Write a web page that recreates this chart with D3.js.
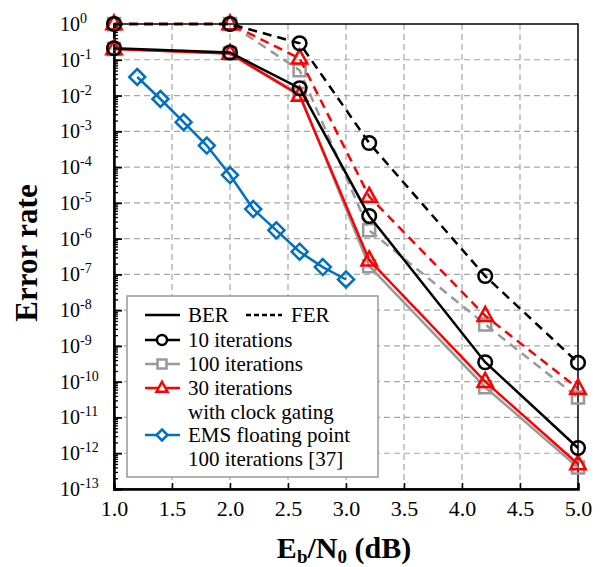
<!DOCTYPE html>
<html><head><meta charset="utf-8">
<script src="https://cdn.jsdelivr.net/npm/d3@7"></script>
<style>
html,body{margin:0;padding:0;background:#fff;}
</style></head>
<body><svg id="c" width="607" height="567"></svg>
<script>
// ---- data ----
const ebn0 = [1.0, 2.0, 2.6, 3.2, 4.2, 5.0];
const it10Ber  = [0.21, 0.16, 0.016, 4.3e-6, 3.5e-10, 1.4e-12];
const it10Fer  = [1, 1, 0.29, 4.7e-4, 9e-8, 3.4e-10];
const it100Ber = [0.2, 0.15, 0.011, 1.7e-7, 7e-11, 4e-13];
const it100Fer = [1, 1, 0.051, 1.7e-6, 4e-9, 3.6e-11];
const it30Ber  = [0.2, 0.15, 0.01, 2.5e-7, 1e-10, 5e-13];
const it30Fer  = [1, 1, 0.11, 1.5e-5, 7e-9, 6.5e-11];
const emsX = [1.2, 1.4, 1.6, 1.8, 2.0, 2.2, 2.4, 2.6, 2.8, 3.0];
const emsBer = [0.033, 0.008, 1.8e-3, 4e-4, 6e-5, 6.7e-6, 1.7e-6, 4.3e-7, 1.6e-7, 7.2e-8];
const xTicks = [1.0, 1.5, 2.0, 2.5, 3.0, 3.5, 4.0, 4.5, 5.0];
const yExps = [0,-1,-2,-3,-4,-5,-6,-7,-8,-9,-10,-11,-12,-13];
const legendLabels = [["10 iterations"],["100 iterations"],["30 iterations","with clock gating"],["EMS floating point","100 iterations [37]"]];

const BLACK="#000", GRAY="#999", RED="#ff0000", BLUE="#0070c0";
const FONT = "Liberation Serif";

const svg = d3.select("#c");
const x = d3.scaleLinear().domain([1,5]).range([114,578]);
const y = d3.scaleLog().domain([1,1e-13]).range([24,489]);

// grid
const g = svg.append("g");
g.selectAll(".gx").data(xTicks.slice(1,-1)).join("line")
  .attr("x1",d=>x(d)).attr("x2",d=>x(d)).attr("y1",y(1)).attr("y2",y(1e-13))
  .attr("stroke","#a6a6a6").attr("stroke-width",1.2).attr("stroke-dasharray","6,4");
g.selectAll(".gy").data(yExps.slice(1,-1)).join("line")
  .attr("x1",x(1)).attr("x2",x(5)).attr("y1",d=>y(Math.pow(10,d))).attr("y2",d=>y(Math.pow(10,d)))
  .attr("stroke","#a6a6a6").attr("stroke-width",1.2).attr("stroke-dasharray","6,4");

// frame
svg.append("rect").attr("x",x(1)).attr("y",y(1)).attr("width",x(5)-x(1)).attr("height",y(1e-13)-y(1))
  .attr("fill","none").attr("stroke","#000").attr("stroke-width",1.5);

// axes
const xa = svg.append("g").attr("transform",`translate(0,${y(1e-13)})`)
  .call(d3.axisBottom(x).tickValues(xTicks).tickSize(-6).tickPadding(11).tickFormat(d3.format(".1f")));
xa.select(".domain").attr("stroke-width",2.5);
xa.selectAll(".tick line").attr("stroke-width",1.5);
xa.selectAll("text").attr("font-size",22).attr("fill","#000");

const minors=[];
for(let e=-13;e<0;e++) for(let m=2;m<10;m++) minors.push(m*Math.pow(10,e));
const ym = svg.append("g").attr("transform",`translate(${x(1)},0)`)
  .call(d3.axisLeft(y).tickValues(minors).tickSize(-4).tickFormat(""));
ym.select(".domain").remove();
ym.selectAll(".tick line").attr("stroke-width",1.3);
const ya = svg.append("g").attr("transform",`translate(${x(1)},0)`)
  .call(d3.axisLeft(y).tickValues(yExps.map(e=>Math.pow(10,e))).tickSize(-8).tickFormat(""));
ya.select(".domain").attr("stroke-width",2.5);
ya.selectAll(".tick line").attr("stroke-width",1.8);

// y tick labels
yExps.forEach(e=>{
  const t = svg.append("text").attr("x",60).attr("y",y(Math.pow(10,e))+7).attr("font-size",20).attr("fill","#000");
  t.append("tspan").text("10");
  t.append("tspan").attr("dy",-8).attr("font-size",14).text(e===0?"0":"-"+Math.abs(e));
});

// axis titles
svg.append("text").attr("transform","translate(37,253) rotate(-90)").attr("text-anchor","middle")
  .attr("font-size",31).attr("font-weight","bold").text("Error rate");
const xt = svg.append("text").attr("x",344).attr("y",558).attr("text-anchor","middle")
  .attr("font-size",30).attr("font-weight","bold");
xt.append("tspan").text("E");
xt.append("tspan").attr("font-size",19).attr("dy",5).text("b");
xt.append("tspan").attr("dy",-5).text("/N");
xt.append("tspan").attr("font-size",19).attr("dy",5).text("0");
xt.append("tspan").attr("dy",-5).text(" (dB)");

// markers
function marker(sel, type, color, s){
  if(type==="circle") return sel.append("circle").attr("r",s).attr("fill","none").attr("stroke",color).attr("stroke-width",2.5);
  let p;
  if(type==="square") p=`M${-s},${-s}H${s}V${s}H${-s}Z`;
  if(type==="triangle") p=`M0,${-s*1.25}L${s*1.1},${s*0.75}L${-s*1.1},${s*0.75}Z`;
  if(type==="diamond") p=`M0,${-s}L${s},0L0,${s}L${-s},0Z`;
  return sel.append("path").attr("d",p).attr("fill","none").attr("stroke",color).attr("stroke-width",2.5);
}

const line = d3.line().x(d=>x(d[0])).y(d=>y(d[1]));
function series(xs, vals, color, dashed, type, size){
  const pts = xs.map((v,i)=>[v,vals[i]]);
  svg.append("path").attr("d",line(pts)).attr("fill","none").attr("stroke",color)
    .attr("stroke-width",2.5).attr("stroke-dasharray",dashed?"9,6":null);
  pts.forEach(p=>{
    const gg = svg.append("g").attr("transform",`translate(${x(p[0])},${y(p[1])})`);
    marker(gg,type,color,size);
  });
}
series(ebn0,it100Fer,GRAY,true,"square",6);
series(ebn0,it100Ber,GRAY,false,"square",6);
series(ebn0,it30Fer,RED,true,"triangle",7);
series(ebn0,it30Ber,RED,false,"triangle",7);
series(ebn0,it10Fer,BLACK,true,"circle",6.8);
series(ebn0,it10Ber,BLACK,false,"circle",6.8);
series(emsX,emsBer,BLUE,false,"diamond",8);

// legend
const lg = svg.append("g");
lg.append("rect").attr("x",127).attr("y",296).attr("width",251).attr("height",181)
  .attr("fill","#fff").attr("stroke","#999").attr("stroke-width",1.5);
lg.append("line").attr("x1",145).attr("x2",180).attr("y1",315).attr("y2",315).attr("stroke","#000").attr("stroke-width",2.5);
lg.append("text").attr("x",188).attr("y",322).attr("font-size",21).text("BER");
lg.append("line").attr("x1",246).attr("x2",282).attr("y1",315).attr("y2",315).attr("stroke","#000").attr("stroke-width",2.5).attr("stroke-dasharray","5,3");
lg.append("text").attr("x",291).attr("y",322).attr("font-size",21).text("FER");
const items = [[BLACK,"circle",5,340],[GRAY,"square",4.5,364],[RED,"triangle",5,388],[BLUE,"diamond",5.5,435]];
items.forEach((it,i)=>{
  lg.append("line").attr("x1",145).attr("x2",180).attr("y1",it[3]).attr("y2",it[3]).attr("stroke",it[0]).attr("stroke-width",2.5);
  const gg = lg.append("g").attr("transform",`translate(162,${it[3]})`);
  marker(gg,it[1],it[0],it[2]).attr("fill","#fff");
  legendLabels[i].forEach((t,j)=>{
    lg.append("text").attr("x",188).attr("y",it[3]+7+j*24).attr("font-size",21).text(t);
  });
});

svg.selectAll("text").style("font-family",`"${FONT}"`);
</script></body></html>
